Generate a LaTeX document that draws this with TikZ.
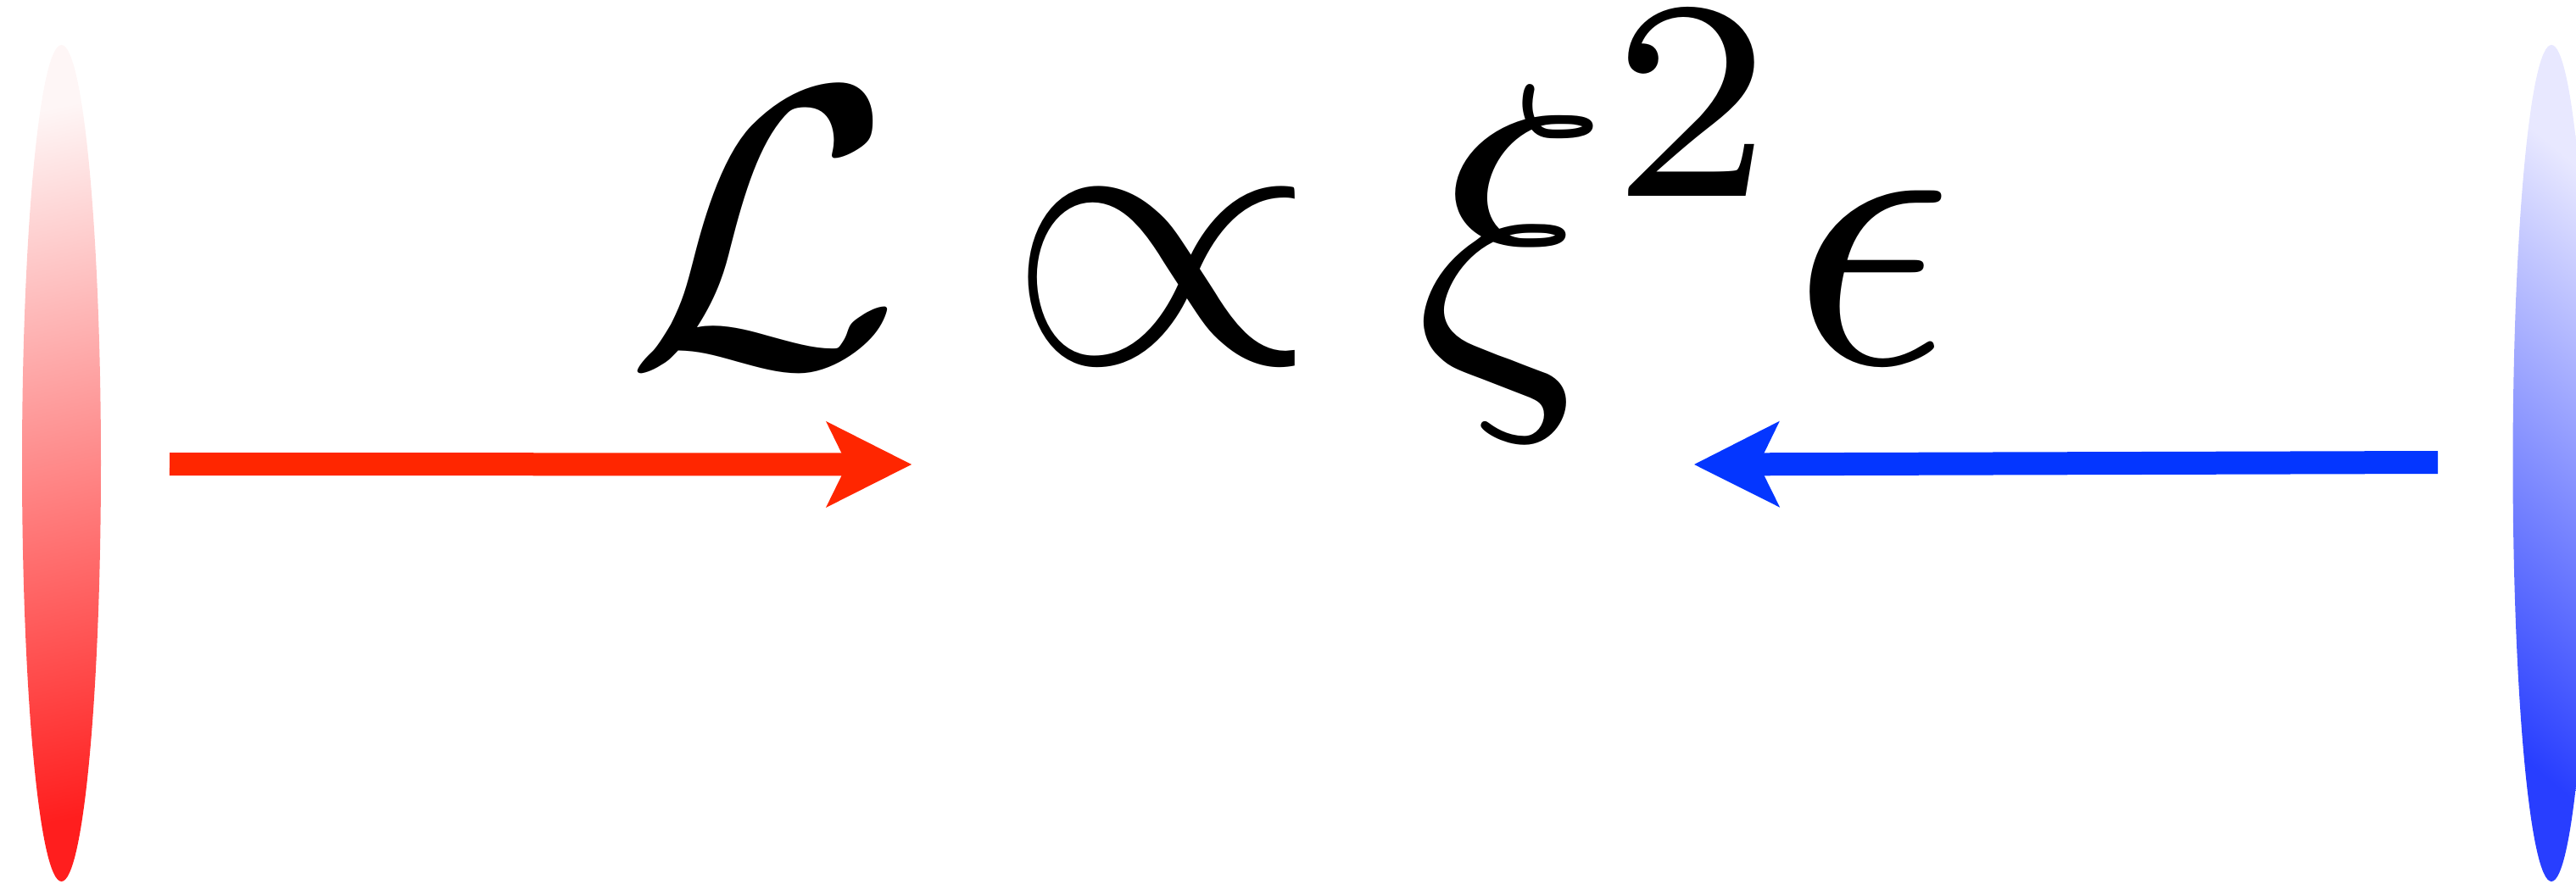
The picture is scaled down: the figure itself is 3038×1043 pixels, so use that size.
\documentclass[tikz,border=0pt]{standalone}
\usetikzlibrary{arrows.meta}
\definecolor{arrowred}{RGB}{255,38,0}
\definecolor{arrowblue}{RGB}{4,54,255}
\definecolor{redlight}{RGB}{254,246,246}
\definecolor{reddark}{RGB}{255,30,30}
\definecolor{bluelight}{RGB}{232,232,255}
\definecolor{bluedark}{RGB}{40,62,255}
\begin{document}
\begin{tikzpicture}[x=1pt,y=-1pt,
  glyph/.style={inner sep=0pt, anchor=base, font=\normalsize, scale=47.2},
  supglyph/.style={inner sep=0pt, anchor=base, font=\scriptsize, scale=48},
  beam/.style={line width=27pt, -{Stealth[length=101pt,width=102pt,inset=25pt,line width=0pt]}}]
\useasboundingbox (0,0) rectangle (3038,1043);
\clip (0,0) rectangle (3038,1043);
% plates
\shade[top color=redlight, bottom color=reddark, shading angle=12]
  (72.5,546.5) ellipse [x radius=46.5, y radius=493.5];
\shade[top color=bluelight, bottom color=bluedark, shading angle=-40]
  (3009,546.5) ellipse [x radius=45.5, y radius=493.5];
% formula
\node[glyph] (L) at (900,430) {$\mathcal{L}$};
\node[glyph] (prop) at (1370,428) {$\propto$};
\node[glyph] (xi) at (1783,428) {$\xi$};
\node[supglyph] (two) at (1995,232) {$2$};
\node[glyph] (eps) at (2208,428) {$\epsilon$};
% arrows
\coordinate (r0) at (200,547.5);
\coordinate (r1) at (1075,548);
\coordinate (b0) at (2875,545.5);
\coordinate (b1) at (1998,548);
\draw[beam, arrowred] (r0) -- (r1);
\draw[beam, arrowblue] (b0) -- (b1);
\end{tikzpicture}
\end{document}
